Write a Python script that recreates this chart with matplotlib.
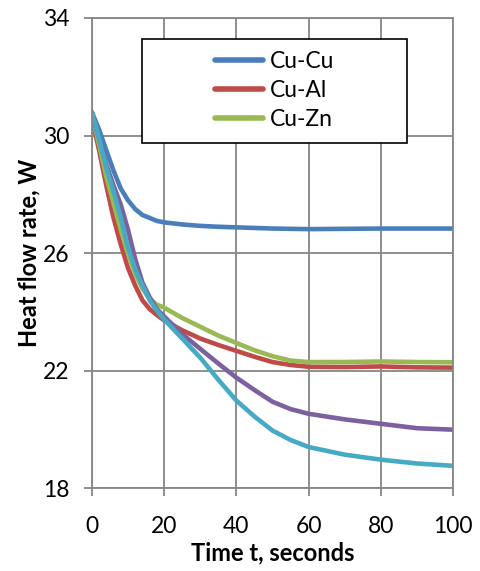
import matplotlib
matplotlib.use('Agg')
import matplotlib.pyplot as plt
from matplotlib.patches import Rectangle

plt.rcParams['font.family'] = ['Lato', 'DejaVu Sans']

# time axis, seconds
time_s = [0, 2, 4, 6, 8, 10, 12, 14, 16, 18, 20, 25, 30, 35, 40, 45, 50, 55, 60, 70, 80, 90, 100]

cu_cu = [30.8, 30.2, 29.5, 28.8, 28.2, 27.8, 27.5, 27.3, 27.2, 27.1, 27.05, 26.98, 26.93, 26.9, 26.88,
         26.86, 26.84, 26.83, 26.82, 26.83, 26.84, 26.84, 26.84]
cu_al = [30.6, 29.5, 28.3, 27.2, 26.3, 25.5, 24.9, 24.4, 24.1, 23.9, 23.72, 23.38, 23.1, 22.88, 22.68,
         22.48, 22.3, 22.2, 22.14, 22.13, 22.15, 22.12, 22.11]
cu_zn = [30.7, 29.7, 28.6, 27.7, 26.8, 26.0, 25.3, 24.8, 24.45, 24.25, 24.15, 23.8, 23.5, 23.2, 22.95,
         22.7, 22.5, 22.35, 22.3, 22.3, 22.32, 22.3, 22.29]
series4 = [30.7, 29.9, 29.0, 28.3, 27.65, 26.8, 25.8, 25.0, 24.5, 24.1, 23.85, 23.25, 22.75, 22.25, 21.77,
           21.35, 20.95, 20.7, 20.54, 20.35, 20.2, 20.05, 20.0]
series5 = [30.8, 29.9, 28.9, 28.1, 27.2, 26.2, 25.45, 24.9, 24.4, 24.05, 23.75, 23.1, 22.45, 21.7, 20.99,
           20.45, 19.97, 19.65, 19.41, 19.15, 18.98, 18.85, 18.77]

series = [
    (cu_cu, 'Cu-Cu', '#4A7EBB'),
    (cu_al, 'Cu-Al', '#BE4B48'),
    (cu_zn, 'Cu-Zn', '#98B954'),
    (series4, '_nolegend_', '#7D60A0'),
    (series5, '_nolegend_', '#46AAC5'),
]

x_ticks = [0, 20, 40, 60, 80, 100]
y_ticks = [18, 22, 26, 30, 34]

grid_col = '#868686'

fig = plt.figure(figsize=(4.81, 5.71), dpi=100)
ax = fig.add_axes([0.191, 0.1445, 0.751, 0.824])

for vals, lab, col in series:
    ax.plot(time_s, vals, color=col, lw=3.3, label=lab, solid_capstyle='round', solid_joinstyle='round')

ax.set_xlim(0, 100)
ax.set_ylim(18, 34)
ax.set_xticks(x_ticks)
ax.set_yticks(y_ticks)
ax.grid(True, color=grid_col, lw=1.3)
ax.set_axisbelow(True)
for sp in ax.spines.values():
    sp.set_color(grid_col)
    sp.set_linewidth(1.3)
ax.tick_params(axis='both', colors=grid_col, labelcolor='black', labelsize=16.5, width=1.3, length=6)
ax.tick_params(axis='x', pad=14)
ax.tick_params(axis='y', pad=10)

ax.set_xlabel('Time t, seconds', fontsize=17, fontweight='bold', labelpad=3)
ax.set_ylabel('Heat flow rate, W', fontsize=17, fontweight='bold', labelpad=2)

box = Rectangle((0.138, 0.735), 0.734, 0.22, transform=ax.transAxes, facecolor='white',
                edgecolor='black', lw=1.2, zorder=5)
ax.add_patch(box)
leg = ax.legend(loc='center', bbox_to_anchor=(0.505, 0.845), frameon=False, fontsize=16.5,
                handlelength=2.1, labelspacing=0.35, handletextpad=0.3)
leg.set_zorder(6)
for h in leg.get_lines():
    h.set_linewidth(4)

fig.savefig('out.png', dpi=100)
